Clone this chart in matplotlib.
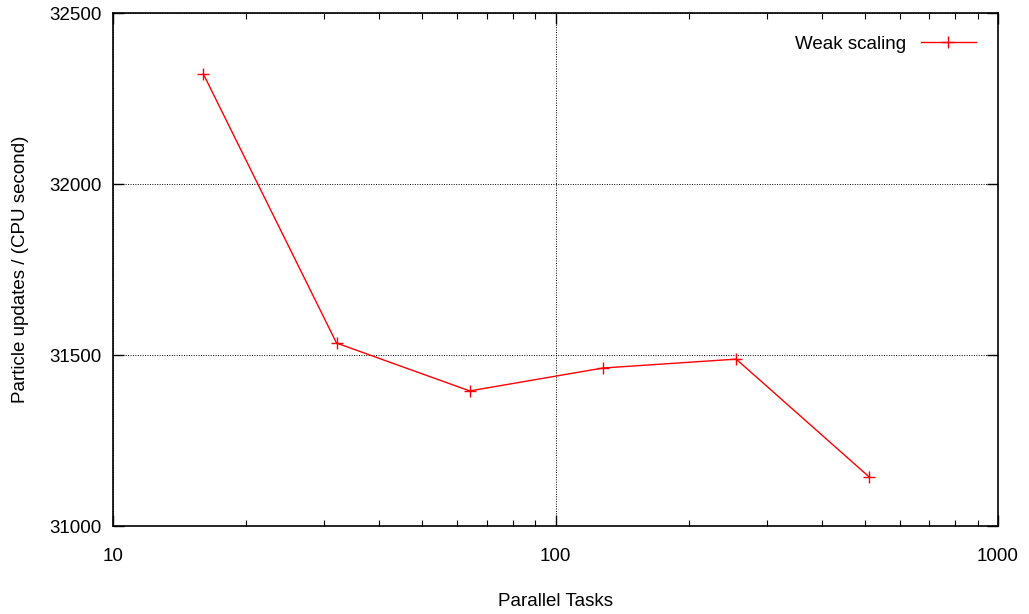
import matplotlib
matplotlib.use('Agg')
from matplotlib import pyplot as plt
from matplotlib.ticker import LogLocator, NullFormatter, FixedLocator

plt.rcParams['font.family'] = ['Liberation Sans', 'DejaVu Sans']

# weak scaling measurements
tasks = [16, 32, 64, 128, 256, 512]
updates = [32322, 31535, 31395, 31462, 31488, 31143]

x_ticks = [10, 100, 1000]
y_ticks = [31000, 31500, 32000, 32500]

fig = plt.figure(figsize=(10.29, 6.14), dpi=100)
ax = fig.add_axes([0.1098, 0.1433, 0.8601, 0.8355])

ax.plot(tasks, updates, color='red', lw=1, marker='+', ms=9, mew=1,
        label='Weak scaling')

ax.set_xscale('log')
ax.set_xlim(10, 1000)
ax.set_ylim(31000, 32500)
ax.xaxis.set_major_locator(FixedLocator(x_ticks))
ax.xaxis.set_major_formatter(plt.FuncFormatter(lambda v, p: '%d' % v))
ax.xaxis.set_minor_locator(LogLocator(base=10, subs=range(2, 10)))
ax.xaxis.set_minor_formatter(NullFormatter())
ax.yaxis.set_major_locator(FixedLocator(y_ticks))
ax.yaxis.set_minor_locator(FixedLocator([]))

ax.tick_params(which='both', direction='in', top=True, right=True,
               labelsize=13.5, color='black')
ax.tick_params(axis='x', which='major', length=8, width=1, pad=16)
ax.tick_params(axis='y', which='major', length=8, width=1, pad=8)
ax.tick_params(which='minor', length=4, width=0.8)

ax.grid(True, which='major', linestyle=(0, (1, 1.5)), color='black', lw=0.7)

for s in ax.spines.values():
    s.set_linewidth(1.2)

ax.set_xlabel('Parallel Tasks', fontsize=13.5, labelpad=20)
ax.set_ylabel('Particle updates / (CPU second)', fontsize=13.5, labelpad=15)

ax.legend(loc='upper right', frameon=False, markerfirst=False,
          fontsize=13.5, handlelength=2.9, borderaxespad=0.8)

fig.savefig('out.png', dpi=100)
